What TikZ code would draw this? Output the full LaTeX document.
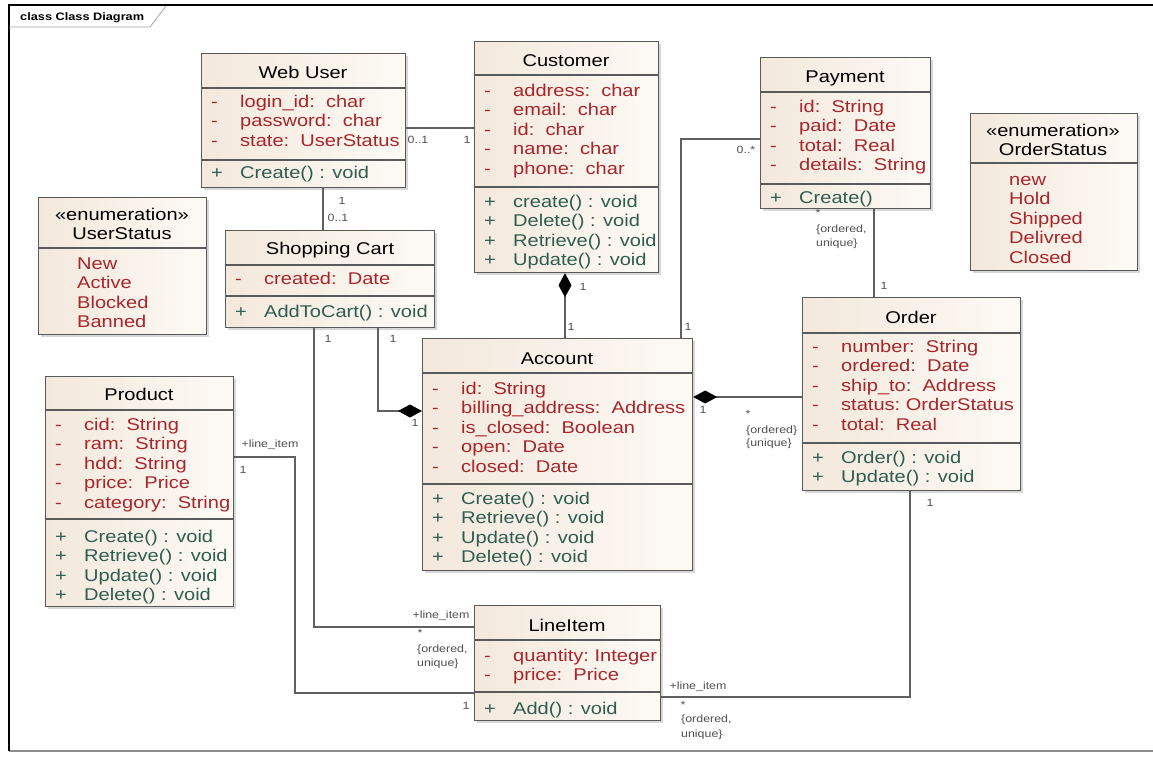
\documentclass[tikz,border=0pt]{standalone}
\usepackage{fontspec}
\setmainfont{Liberation Sans}[FakeStretch=1.18]
\usetikzlibrary{arrows.meta,shadows}
\definecolor{attrc}{HTML}{A8262B}
\definecolor{opc}{HTML}{2E5E50}
\definecolor{bordc}{HTML}{5A5A5A}
\definecolor{lnc}{HTML}{606060}
\definecolor{fillL}{HTML}{F3E8DC}
\definecolor{fillR}{HTML}{FDFAF5}
\definecolor{lblc}{HTML}{505050}
\tikzset{
 cls/.style={draw=bordc, line width=1.2pt, left color=fillL, right color=fillR, anchor=north west, inner sep=0pt,
   drop shadow={shadow xshift=2pt, shadow yshift=-2pt, opacity=0.25, fill=black!60}},
 divl/.style={draw=bordc, line width=1.2pt},
 ttl/.style={anchor=base, inner sep=0pt, font=\fontsize{17}{19.5}\selectfont},
 mem/.style={anchor=base west, inner sep=0pt, font=\fontsize{17}{19.5}\selectfont},
 conn/.style={draw=lnc, line width=1.2pt},
 comp/.style={conn, arrows={Diamond[length=24pt,width=13pt,black]-}},
 lbl/.style={inner sep=0pt, text=lblc, font=\fontsize{10.5}{12.5}\selectfont},
 lbll/.style={lbl, anchor=west},
}
\newcommand\mlist[6]{%
 \foreach \t [count=\i from 0] in {#6}{
   \node[mem,text=#5] (#1s\i) at (#2+10,#3+19.5*\i) {#4};
   \node[mem,text=#5] (#1t\i) at (#2+39,#3+19.5*\i) {\t};
 }}
\begin{document}
\begin{tikzpicture}[x=1pt,y=-1pt]
\useasboundingbox (0,0) rectangle (1153,756);
\fill[white] (0,0) rectangle (1153,756);
% frame
\draw[line width=1.2pt, black!45] (9,751) -- (1153,751);
\draw[line width=2.6pt, black] (9,751) -- (9,5) -- (1153,5);
\draw[line width=0.8pt, black!35] (9,27) -- (150,27) -- (166,6);
\node[font=\bfseries\fontsize{10.8}{12}\selectfont, anchor=base west, inner sep=0pt] (frm) at (20,20) {class Class Diagram};

% ---------- classes ----------
% Web User
\node[cls, minimum width=204, minimum height=134] (web) at (201,53) {};
\draw[divl] (201,88) -- (405,88); \draw[divl] (201,160) -- (405,160);
\node[ttl] (webT) at (303,78) {Web User};
\mlist{webA}{201}{107}{-}{attrc}{login\_id:\ \ char, password:\ \ char, state:\ \ UserStatus}
\mlist{webO}{201}{178}{+}{opc}{Create() : void}

% Customer
\node[cls, minimum width=184, minimum height=231] (cust) at (474,41) {};
\draw[divl] (474,75) -- (658,75); \draw[divl] (474,187) -- (658,187);
\node[ttl] (custT) at (566,66) {Customer};
\mlist{custA}{474}{96}{-}{attrc}{address:\ \ char, email:\ \ char, id:\ \ char, name:\ \ char, phone:\ \ char}
\mlist{custO}{474}{207}{+}{opc}{create() : void, Delete() : void, Retrieve() : void, Update() : void}

% Payment
\node[cls, minimum width=170, minimum height=151] (pay) at (760,57) {};
\draw[divl] (760,92) -- (930,92); \draw[divl] (760,184) -- (930,184);
\node[ttl] (payT) at (845,82) {Payment};
\mlist{payA}{760}{112}{-}{attrc}{id:\ \ String, paid:\ \ Date, total:\ \ Real, details:\ \ String}
\mlist{payO}{760}{203}{+}{opc}{Create()}

% OrderStatus
\node[cls, minimum width=167, minimum height=157] (ost) at (970,113) {};
\draw[divl] (970,163) -- (1137,163);
\node[ttl] (ostS) at (1053,136) {«enumeration»};
\node[ttl] (ostT) at (1053,155) {OrderStatus};
\mlist{ostL}{970}{185}{}{attrc}{new, Hold, Shipped, Delivred, Closed}

% UserStatus
\node[cls, minimum width=168, minimum height=137] (ust) at (38,197) {};
\draw[divl] (38,248) -- (206,248);
\node[ttl] (ustS) at (122,220) {«enumeration»};
\node[ttl] (ustT) at (122,239) {UserStatus};
\mlist{ustL}{38}{269}{}{attrc}{New, Active, Blocked, Banned}

% Shopping Cart
\node[cls, minimum width=209, minimum height=97] (cart) at (225,230) {};
\draw[divl] (225,265) -- (434,265); \draw[divl] (225,296) -- (434,296);
\node[ttl] (cartT) at (330,254) {Shopping Cart};
\mlist{cartA}{225}{284}{-}{attrc}{created:\ \ Date}
\mlist{cartO}{225}{317}{+}{opc}{AddToCart() : void}

% Product
\node[cls, minimum width=188, minimum height=230] (prod) at (45,376) {};
\draw[divl] (45,410) -- (233,410); \draw[divl] (45,519) -- (233,519);
\node[ttl] (prodT) at (139,400) {Product};
\mlist{prodA}{45}{430}{-}{attrc}{cid:\ \ String, ram:\ \ String, hdd:\ \ String, price:\ \ Price, category:\ \ String}
\mlist{prodO}{45}{542}{+}{opc}{Create() : void, Retrieve() : void, Update() : void, Delete() : void}

% Account
\node[cls, minimum width=270, minimum height=232] (acct) at (422,338) {};
\draw[divl] (422,373) -- (692,373); \draw[divl] (422,484) -- (692,484);
\node[ttl] (acctT) at (557,364) {Account};
\mlist{acctA}{422}{394}{-}{attrc}{id:\ \ String, billing\_address:\ \ Address, is\_closed:\ \ Boolean, open:\ \ Date, closed:\ \ Date}
\mlist{acctO}{422}{504}{+}{opc}{Create() : void, Retrieve() : void, Update() : void, Delete() : void}

% Order
\node[cls, minimum width=218, minimum height=193] (order) at (802,297) {};
\draw[divl] (802,333) -- (1020,333); \draw[divl] (802,443) -- (1020,443);
\node[ttl] (orderT) at (911,323) {Order};
\mlist{orderA}{802}{352}{-}{attrc}{number:\ \ String, ordered:\ \ Date, ship\_to:\ \ Address, status:\ OrderStatus, total:\ \ Real}
\mlist{orderO}{802}{463}{+}{opc}{Order() : void, Update() : void}

% LineItem
\node[cls, minimum width=186, minimum height=115] (li) at (474,605) {};
\draw[divl] (474,640) -- (660,640); \draw[divl] (474,692) -- (660,692);
\node[ttl] (liT) at (567,631) {LineItem};
\mlist{liA}{474}{661}{-}{attrc}{quantity:\ Integer, price:\ \ Price}
\mlist{liO}{474}{714}{+}{opc}{Add() : void}

% ---------- connectors ----------
\draw[conn] (web.east |- 0,128) -- (cust.west |- 0,128);
\draw[conn] (web.south -| 323,0) -- (cart.north -| 323,0);
\draw[comp] (cust.south -| 565,0) -- (acct.north -| 565,0);
\draw[conn] (pay.west |- 0,139) -| (acct.north -| 681,0);
\draw[conn] (pay.south -| 874,0) -- (order.north -| 874,0);
\draw[comp] (acct.west |- 0,411) -| (cart.south -| 378,0);
\draw[conn] (cart.south -| 314,0) |- (li.west |- 0,627);
\draw[comp] (acct.east |- 0,397) -- (order.west |- 0,397);
\draw[conn] (prod.east |- 0,457) -| (295,693) -- (li.west |- 0,693);
\draw[conn] (order.south -| 910,0) |- (li.east |- 0,697);

% ---------- labels ----------
\node[lbl] (m1a) at (418,140) {0..1};
\node[lbl] (m1b) at (467,140) {1};
\node[lbl] (m2a) at (342,201) {1};
\node[lbl] (m2b) at (338,218) {0..1};
\node[lbl] (m3a) at (583,287) {1};
\node[lbl] (m3b) at (571,327) {1};
\node[lbl] (m4a) at (746,150) {0..*};
\node[lbl] (m4b) at (688,327) {1};
\node[lbl] (m5a) at (818,213) {*};
\node[lbll] (m5b) at (816,230) {\{ordered,};
\node[lbll] (m5c) at (816,244) {unique\}};
\node[lbl] (m5d) at (884,286) {1};
\node[lbl] (m6a) at (393,339) {1};
\node[lbl] (m6b) at (415,423) {1};
\node[lbl] (m7a) at (328,339) {1};
\node[lbl] (m7b) at (441,616) {+line\_item};
\node[lbl] (m7c) at (420,633) {*};
\node[lbll] (m7d) at (417,650) {\{ordered,};
\node[lbll] (m7e) at (417,664) {unique\}};
\node[lbl] (m8a) at (703,410) {1};
\node[lbl] (m8b) at (748,414) {*};
\node[lbll] (m8c) at (746,431) {\{ordered\}};
\node[lbll] (m8d) at (746,444) {\{unique\}};
\node[lbl] (m9a) at (270,445) {+line\_item};
\node[lbl] (m9b) at (243,470) {1};
\node[lbl] (m9c) at (466,706) {1};
\node[lbl] (m10a) at (930,503) {1};
\node[lbl] (m10b) at (698,687) {+line\_item};
\node[lbl] (m10c) at (683,705) {*};
\node[lbll] (m10d) at (681,720) {\{ordered,};
\node[lbll] (m10e) at (681,735) {unique\}};
\end{tikzpicture}
\end{document}
